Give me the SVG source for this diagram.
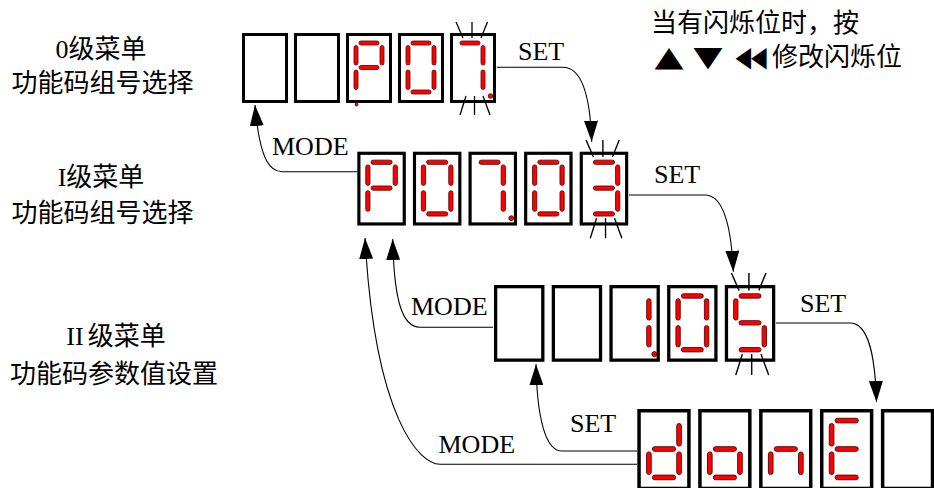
<svg xmlns="http://www.w3.org/2000/svg" xmlns:xlink="http://www.w3.org/1999/xlink" width="934" height="488" viewBox="0 0 934 488">
<style>
.lbl { font-family: "Liberation Serif", "Noto Sans CJK SC", serif; font-size: 26px; fill: #000; }
.sym { font-family: "DejaVu Sans", sans-serif; font-size: 26px; fill: #000; }
.cell { fill: #fff; stroke: #000; stroke-width: 3; }
.seg { fill: #ff0000; stroke: #5a0000; stroke-width: 0.8; }
.ray { stroke: #000; stroke-width: 1.3; fill: none; }
.conn { fill: none; stroke: #000; stroke-width: 1.1; marker-end: url(#ah); }
</style>
<defs>
  <marker id="ah" markerUnits="userSpaceOnUse" markerWidth="21" markerHeight="14" refX="21" refY="7" orient="auto">
    <path d="M0,0 L21,7 L0,14 Z" fill="#000"/>
  </marker>
  <rect id="h" class="seg" width="20" height="4" rx="2"/>
  <rect id="v" class="seg" width="4" height="19.5" rx="2"/>
  <rect id="box" class="cell" x="1.5" y="1.5" width="43" height="67"/>
  <g id="dP"><use href="#h" x="13" y="8"/><use href="#v" x="34" y="12.5"/><use href="#v" x="8" y="12.5"/><use href="#v" x="8" y="37"/><use href="#h" x="13" y="32.5"/></g>
  <g id="d0"><use href="#h" x="13" y="8"/><use href="#v" x="34" y="12.5"/><use href="#v" x="34" y="37"/><use href="#h" x="13" y="57"/><use href="#v" x="8" y="37"/><use href="#v" x="8" y="12.5"/></g>
  <g id="d7"><g transform="translate(-3,0)"><use href="#h" x="13" y="8"/><use href="#v" x="34" y="12.5"/><use href="#v" x="34" y="37"/></g><circle class="seg" cx="40.5" cy="63" r="2.3"/></g>
  <g id="d3"><use href="#h" x="13" y="8"/><use href="#v" x="34" y="12.5"/><use href="#v" x="34" y="37"/><use href="#h" x="13" y="57"/><use href="#h" x="13" y="32.5"/></g>
  <g id="d1"><use href="#v" x="34" y="12.5"/><use href="#v" x="34" y="37"/><circle class="seg" cx="41" cy="63" r="2.3"/></g>
  <g id="d5"><use href="#h" x="13" y="8"/><use href="#v" x="8" y="12.5"/><use href="#h" x="13" y="32.5"/><use href="#v" x="34" y="37"/><use href="#h" x="13" y="57"/></g>
  <g id="dd"><use href="#v" x="34" y="12.5"/><use href="#v" x="34" y="37"/><use href="#h" x="13" y="57"/><use href="#v" x="8" y="37"/><use href="#h" x="13" y="32.5"/></g>
  <g id="do"><use href="#h" x="13" y="32.5"/><use href="#v" x="34" y="37"/><use href="#h" x="13" y="57"/><use href="#v" x="8" y="37"/></g>
  <g id="dn"><use href="#h" x="13" y="32.5"/><use href="#v" x="34" y="37"/><use href="#v" x="8" y="37"/></g>
  <g id="dE"><use href="#h" x="13" y="8"/><use href="#v" x="8" y="12.5"/><use href="#h" x="13" y="32.5"/><use href="#v" x="8" y="37"/><use href="#h" x="13" y="57"/></g>
  <g id="rays" class="ray">
    <line x1="6" y1="-11" x2="13" y2="5"/><line x1="22" y1="-11" x2="22" y2="5"/><line x1="37.5" y1="-11" x2="31" y2="5"/>
    <line x1="16" y1="63" x2="10" y2="82"/><line x1="24.5" y1="63" x2="24.5" y2="82"/><line x1="33" y1="63" x2="40" y2="82"/>
  </g>
</defs>
<rect width="934" height="488" fill="#fff"/>

<g id="labels">
  <text class="lbl" x="101" y="58" text-anchor="middle">0级菜单</text>
  <text class="lbl" x="102.5" y="92" text-anchor="middle">功能码组号选择</text>
  <text class="lbl" x="101" y="186" text-anchor="middle">I级菜单</text>
  <text class="lbl" x="102.5" y="222" text-anchor="middle">功能码组号选择</text>
  <text class="lbl" x="116" y="345" text-anchor="middle">II<tspan dx="4">级菜单</tspan></text>
  <text class="lbl" x="114" y="383" text-anchor="middle">功能码参数值设置</text>
</g>

<g id="hint">
  <text class="lbl" x="651" y="32">当有闪烁位时，按</text>
  <text class="sym" transform="translate(669,65.5) scale(1.45,1.08)" text-anchor="middle">▲</text>
  <text class="sym" transform="translate(708,65.5) scale(1.45,1.08)" text-anchor="middle">▼</text>
  <text class="sym" transform="translate(751,65.5) scale(0.78,1.08)" text-anchor="middle">◀◀</text>
  <text class="lbl" x="772" y="66">修改闪烁位</text>
</g>

<g id="display0" transform="translate(242,33)">
  <g transform="translate(0,0)"><use href="#box"/></g>
  <g transform="translate(52,0)"><use href="#box"/></g>
  <g transform="translate(104,0)"><use href="#box"/><use href="#dP"/><circle class="seg" cx="10.5" cy="71.5" r="1.4"/></g>
  <g transform="translate(156,0)"><use href="#box"/><use href="#d0"/></g>
  <g transform="translate(208,0)"><use href="#box"/><use href="#d7"/><use href="#rays"/></g>
</g>

<g id="display1" transform="translate(357.3,151.7) scale(1.055)">
  <g transform="translate(0,0)"><use href="#box"/><use href="#dP"/></g>
  <g transform="translate(52.7,0)"><use href="#box"/><use href="#d0"/></g>
  <g transform="translate(105.4,0)"><use href="#box"/><use href="#d7"/></g>
  <g transform="translate(158.1,0)"><use href="#box"/><use href="#d0"/></g>
  <g transform="translate(210.8,0)"><use href="#box"/><use href="#d3"/><use href="#rays"/></g>
</g>

<g id="display2" transform="translate(494,285) scale(1.097)">
  <g transform="translate(0,0)"><use href="#box"/></g>
  <g transform="translate(52.6,0)"><use href="#box"/></g>
  <g transform="translate(105.2,0)"><use href="#box"/><use href="#d1"/></g>
  <g transform="translate(157.8,0)"><use href="#box"/><use href="#d0"/></g>
  <g transform="translate(210.4,0)"><use href="#box"/><use href="#d5"/><use href="#rays"/></g>
</g>

<g id="display3" transform="translate(637.3,409) scale(1.16)">
  <g transform="translate(0,0)"><use href="#box"/><use href="#dd"/></g>
  <g transform="translate(52.5,0)"><use href="#box"/><use href="#do"/></g>
  <g transform="translate(105,0)"><use href="#box"/><use href="#dn"/></g>
  <g transform="translate(157.5,0)"><use href="#box"/><use href="#dE"/></g>
  <g transform="translate(210,0)"><use href="#box"/></g>
</g>

<g id="connectors">
  <path class="conn" d="M496.7,67.3 H563 C580,67.3 590,90 591.7,141.7"/>
  <path class="conn" d="M629,195 H705 C722,195 731,220 733.3,271.7"/>
  <path class="conn" d="M776,323 H850 C867,323 875,350 876.5,402"/>
  <path class="conn" d="M357,171.7 H282 C272,171.7 260,165 255,105"/>
  <path class="conn" d="M493,327.3 H420 C402,327.3 394,300 392.7,239"/>
  <path class="conn" d="M637,464.3 H440 C420,464.3 375,420 365,238"/>
  <path class="conn" d="M637,451 H562 C546,451 537,420 536,364.3"/>
  <text class="lbl" x="518" y="60">SET</text>
  <text class="lbl" x="654" y="183">SET</text>
  <text class="lbl" x="800" y="312">SET</text>
  <text class="lbl" x="570" y="431.7">SET</text>
  <text class="lbl" x="272" y="155">MODE</text>
  <text class="lbl" x="411" y="315">MODE</text>
  <text class="lbl" x="438.5" y="452.5">MODE</text>
</g>
</svg>
